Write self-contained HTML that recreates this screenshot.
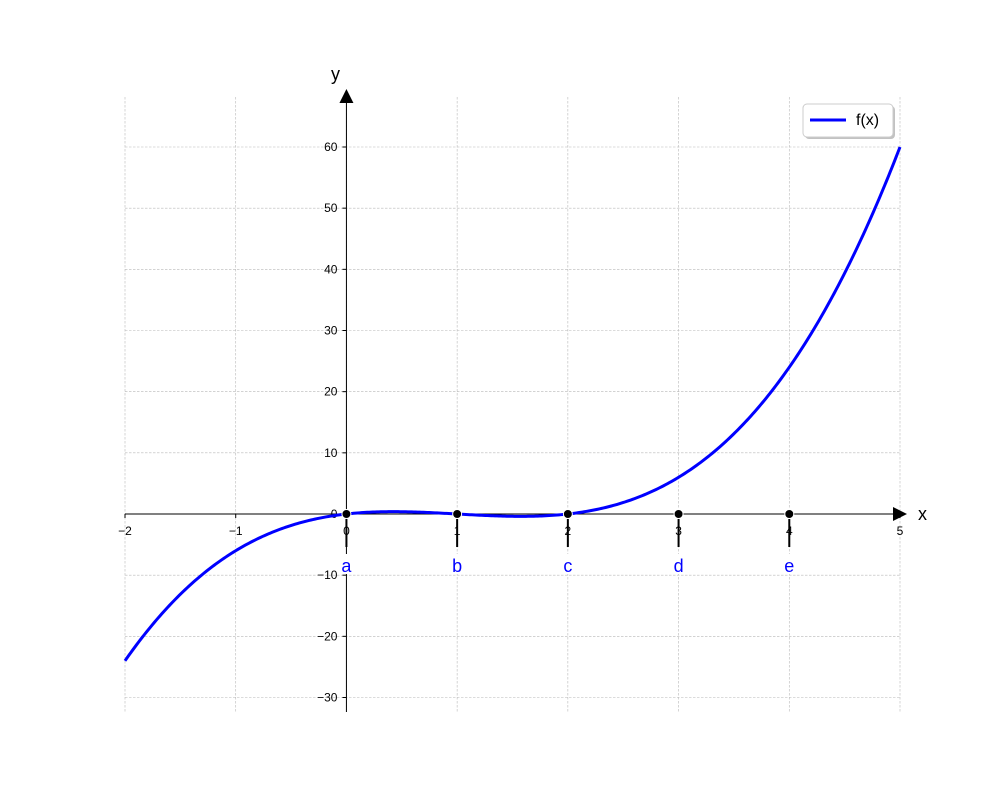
<!DOCTYPE html>
<html><head><meta charset="utf-8"><style>
body{margin:0;background:#fff}
svg text{font-family:"Liberation Sans","DejaVu Sans",sans-serif}
</style></head><body>
<svg id="chart" width="1000" height="800" xmlns="http://www.w3.org/2000/svg">
<g id="grid"></g>
<g id="axes"></g>
<g id="series"></g>
<g id="points"></g>
<g>
<rect x="805" y="106" width="90" height="33" rx="4" fill="#999" opacity="0.6"/>
<rect x="803" y="104" width="90" height="33" rx="4" fill="#fff" stroke="#ccc"/>
<line x1="810" y1="120" x2="846" y2="120" stroke="#0000ff" stroke-width="3"/>
<text x="856" y="125" font-size="16">f(x)</text>
</g>
</svg>
<script>
const xTicks=[-2,-1,0,1,2,3,4,5];
const yTicks=[-30,-20,-10,0,10,20,30,40,50,60];
const pointX=[0,1,2,3,4];
const pointY=[0,0,0,0,0];
const pointLabels=['a','b','c','d','e'];
const coeffs=[1,-3,2,0]; // f(x)=x^3-3x^2+2x
const xMin=-2,xMax=5;
const NS='http://www.w3.org/2000/svg';
const sx=v=>125+(v-xMin)*(900-125)/(xMax-xMin);
const sy=v=>514-v*(514-147)/60;
const f=x=>coeffs.reduce((a,c)=>a*x+c,0);
function mk(tag,attrs,parent,txt){const e=document.createElementNS(NS,tag);for(const k in attrs)e.setAttribute(k,attrs[k]);if(txt!=null)e.textContent=txt;parent.appendChild(e);return e;}
const grid=document.getElementById('grid'),axes=document.getElementById('axes'),series=document.getElementById('series'),pts=document.getElementById('points');
const yTop=97,yBot=712;
xTicks.forEach(t=>{const l=mk('line',{x1:sx(t),x2:sx(t),y1:yTop,y2:yBot,stroke:'#b8b8b8','stroke-width':0.6,'stroke-dasharray':'2.5,1.5'},grid);

});
yTicks.forEach(t=>{const l=mk('line',{x1:125,x2:900,y1:sy(t),y2:sy(t),stroke:'#b8b8b8','stroke-width':0.6,'stroke-dasharray':'2.5,1.5'},grid);

});
let e=mk('line',{x1:sx(0),x2:sx(0),y1:yTop,y2:yBot,stroke:'#000','stroke-width':1},axes);


e=mk('line',{x1:125,x2:900,y1:sy(0),y2:sy(0),stroke:'#000','stroke-width':1},axes);


e=mk('polygon',{points:`${sx(0)-7},103 ${sx(0)+7},103 ${sx(0)},89`,fill:'#000'},axes);


e=mk('polygon',{points:`893,507 893,521 907,514`,fill:'#000'},axes);


e=mk('text',{x:918,y:520,'font-size':18},axes,'x');


e=mk('text',{x:331,y:80,'font-size':18},axes,'y');


xTicks.forEach(t=>{mk('line',{x1:sx(t),x2:sx(t),y1:514,y2:518,stroke:'#000'},axes);
const tx=mk('text',{x:sx(t),y:535,'font-size':12,'text-anchor':'middle'},axes,String(t).replace('-','\u2212'));

});
yTicks.forEach(t=>{mk('line',{x1:sx(0)-4,x2:sx(0),y1:sy(t),y2:sy(t),stroke:'#000'},axes);
const tx=mk('text',{x:sx(0)-9,y:sy(t)+4,'font-size':12,'text-anchor':'end'},axes,String(t).replace('-','\u2212'));

});
let d='';for(let i=0;i<=400;i++){const x=xMin+(xMax-xMin)*i/400;d+=(i?'L':'M')+sx(x).toFixed(2)+','+sy(f(x)).toFixed(2);}
e=mk('path',{d:d,fill:'none',stroke:'#0000ff','stroke-width':3},series);


pointX.forEach((x,i)=>{
mk('line',{x1:sx(x),x2:sx(x),y1:sy(0)+5,y2:sy(0)+33,stroke:'#000','stroke-width':2},pts);
mk('rect',{x:sx(x)-8,y:554,width:16,height:20,fill:'#fff'},pts);
const c=mk('circle',{cx:sx(x),cy:sy(pointY[i]),r:4.5,fill:'#000',stroke:'#fff','stroke-width':1},pts);


const t=mk('text',{x:sx(x),y:572,'font-size':18,'text-anchor':'middle',fill:'#0000ff'},pts,pointLabels[i]);

});
</script>
</body></html>
